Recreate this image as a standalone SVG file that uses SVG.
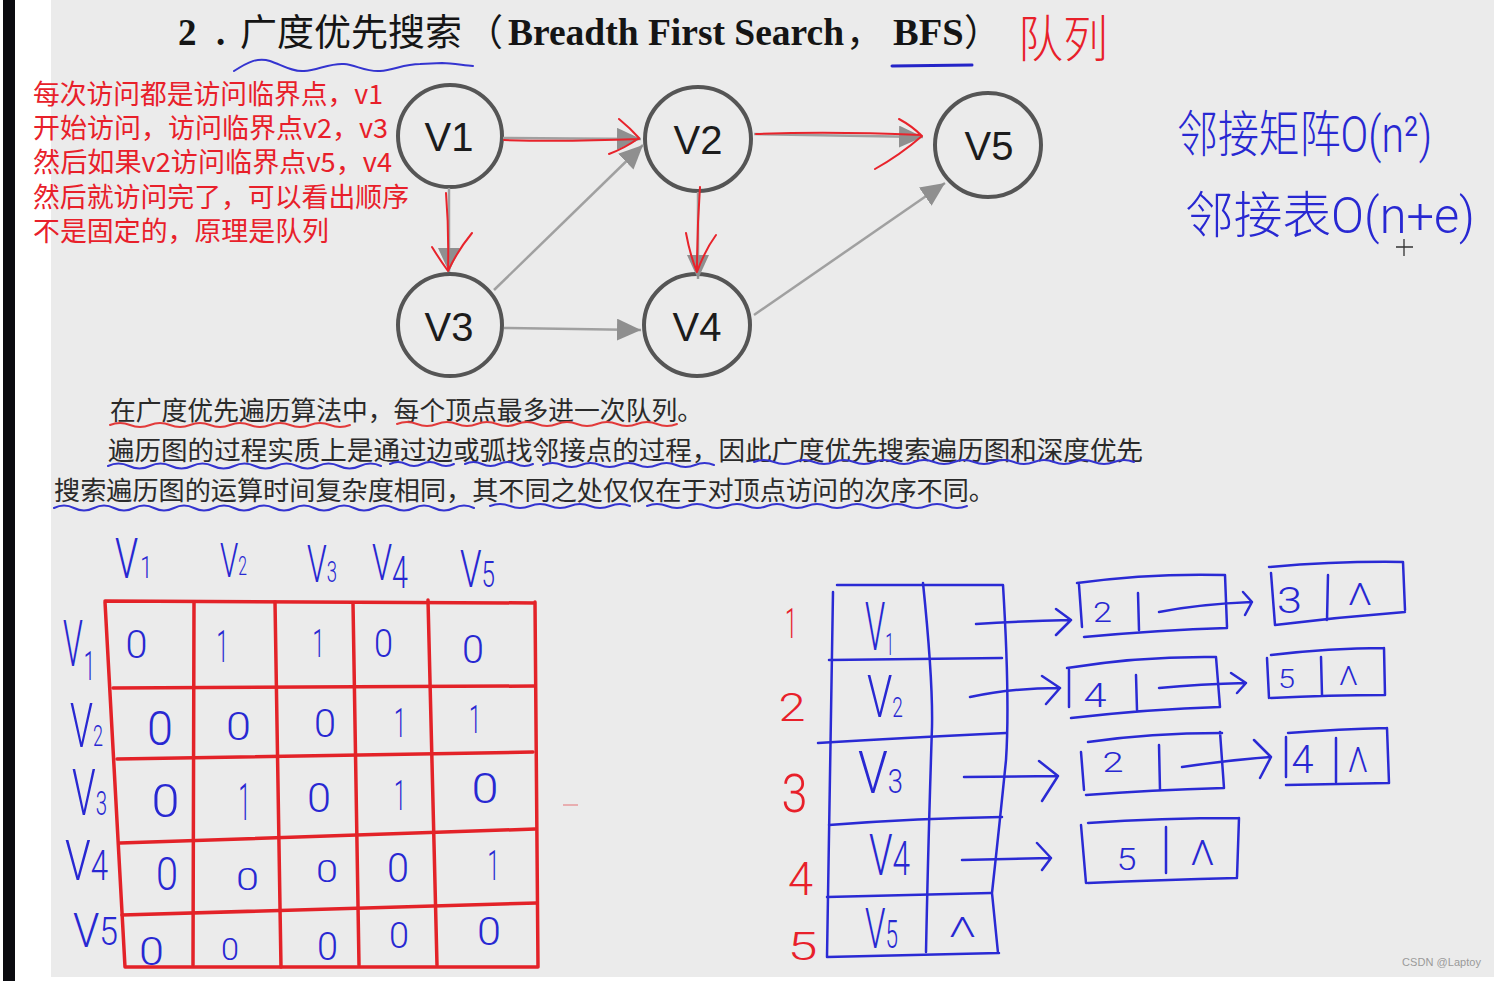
<svg xmlns="http://www.w3.org/2000/svg" width="1496" height="981" viewBox="0 0 1496 981">
<defs>
<style>
.note{font-family:'Noto Sans CJK SC',sans-serif;font-size:27px;fill:#e8202a}
.para{font-family:'Noto Sans CJK SC',sans-serif;font-size:26px;fill:#2a2a2a}
.ttl{font-family:'Liberation Serif','Noto Sans CJK SC',serif;font-size:37px;fill:#151515}
.b{font-weight:bold}
.cj{font-family:'Noto Sans CJK SC',sans-serif}
.node{fill:none;stroke:#555;stroke-width:4}
.nlab{font-family:'Liberation Sans',sans-serif;font-size:40px;fill:#1c1c1c;text-anchor:middle}
.edge{fill:none;stroke:#a0a0a0;stroke-width:2.5}
.red{fill:none;stroke:#e8232b;stroke-width:2;stroke-linecap:round;stroke-linejoin:round}
.blu{fill:none;stroke:#2a2ad4;stroke-width:2.5;stroke-linecap:round;stroke-linejoin:round}
.wav{fill:none;stroke:#3434d0;stroke-width:2;stroke-linecap:round}
.wavr{fill:none;stroke:#e23a3a;stroke-width:2;stroke-linecap:round}
.grid{fill:none;stroke:#e32228;stroke-width:3.5;stroke-linecap:round}
.hw{font-family:Roboto,'Noto Sans CJK SC',sans-serif;font-weight:300;fill:#2828d2}
.hwr{font-family:Roboto,'Noto Sans CJK SC',sans-serif;font-weight:300;fill:#e8202a}
.d{text-anchor:middle}
</style>
<marker id="ah" viewBox="0 0 24 22" markerWidth="24" markerHeight="22" refX="24" refY="11" orient="auto" markerUnits="userSpaceOnUse">
<path d="M0,0 L24,11 L0,22 z" fill="#8f8f8f"/>
</marker>
</defs>

<!-- background -->
<rect x="0" y="0" width="1496" height="981" fill="#ffffff"/>
<rect x="3" y="0" width="12" height="981" fill="#0b0b10"/>
<rect x="51" y="0" width="1443" height="977" fill="#ebebeb"/>

<!-- title -->
<g id="title">
<text class="ttl" y="45"><tspan class="b" x="178">2</tspan><tspan class="b" x="216">.</tspan><tspan class="cj" x="240" y="46">广度优先搜索</tspan><tspan class="cj" x="466" y="46">（</tspan><tspan class="b" x="508" y="45" font-size="37.5">Breadth First Search</tspan><tspan class="cj" x="846" y="46">，</tspan><tspan class="b" x="893" y="45" font-size="38.5">BFS</tspan><tspan class="cj" x="964" y="46">）</tspan></text>
<path class="wav" d="M234,71 C248,62 258,57 270,61 C282,65 292,72 304,71 C318,70 330,63 344,64 C356,65 366,72 380,71 C394,70 404,64 420,64 L442,63 C452,63 462,65 473,66"/>
<path d="M892,66 L972,65" fill="none" stroke="#2424c8" stroke-width="3" stroke-linecap="round"/>
<text class="hwr" x="1018" y="57" font-size="50" textLength="90" lengthAdjust="spacingAndGlyphs">队列</text>
</g>

<!-- red notes -->
<g id="notes">
<text class="note" x="33" y="104" textLength="350" lengthAdjust="spacingAndGlyphs">每次访问都是访问临界点，v1</text>
<text class="note" x="33" y="138" textLength="355" lengthAdjust="spacingAndGlyphs">开始访问，访问临界点v2，v3</text>
<text class="note" x="33" y="172" textLength="359" lengthAdjust="spacingAndGlyphs">然后如果v2访问临界点v5，v4</text>
<text class="note" x="33" y="207" textLength="376" lengthAdjust="spacingAndGlyphs">然后就访问完了，可以看出顺序</text>
<text class="note" x="33" y="241" textLength="296" lengthAdjust="spacingAndGlyphs">不是固定的，原理是队列</text>
</g>

<!-- graph nodes -->
<g id="node-v1"><ellipse class="node" cx="450" cy="136" rx="52" ry="51"/><text class="nlab" x="449" y="151">V1</text></g>
<g id="node-v2"><ellipse class="node" cx="698" cy="139" rx="53" ry="52"/><text class="nlab" x="698" y="154">V2</text></g>
<g id="node-v5"><ellipse class="node" cx="988" cy="145" rx="53" ry="52"/><text class="nlab" x="989" y="160">V5</text></g>
<g id="node-v3"><ellipse class="node" cx="450" cy="325" rx="52" ry="51"/><text class="nlab" x="449" y="341">V3</text></g>
<g id="node-v4"><ellipse class="node" cx="697" cy="325" rx="53" ry="51"/><text class="nlab" x="697" y="341">V4</text></g>

<!-- connectors -->
<g id="connectors">
<path class="edge" d="M503,138 L641,139" marker-end="url(#ah)"/>
<path class="edge" d="M449,188 L449,272" marker-end="url(#ah)"/>
<path class="edge" d="M494,290 L643,145" marker-end="url(#ah)"/>
<path class="edge" d="M698,192 L698,279" marker-end="url(#ah)"/>
<path class="edge" d="M504,328 L641,330" marker-end="url(#ah)"/>
<path class="edge" d="M754,315 L945,183" marker-end="url(#ah)"/>
<path class="edge" d="M754,134 L923,137" marker-end="url(#ah)"/>
<path class="red" d="M504,140 Q560,142 639,139 M619,119 Q630,128 639,138 Q625,148 609,154"/>
<path class="red" d="M756,134 Q830,131 921,135 M899,119 Q912,126 922,136 Q900,155 875,169"/>
<path class="red" d="M446,193 Q449,230 448,271 M432,247 Q440,260 448,271 Q458,250 472,233"/>
<path class="red" d="M700,187 Q697,230 697,272 M686,233 Q690,255 697,272 Q705,250 716,235"/>
</g>

<!-- complexity handwriting -->
<g id="complexity">
<text class="hw" x="1177" y="152" font-size="50" textLength="255" lengthAdjust="spacingAndGlyphs">邻接矩阵O(n²)</text>
<text class="hw" x="1185" y="233" font-size="50" textLength="290" lengthAdjust="spacingAndGlyphs">邻接表O(n+e)</text>
<path d="M1404,239 L1404,256 M1396,247 L1413,247" stroke="#333" stroke-width="1.3" fill="none"/>
</g>

<!-- paragraph -->
<g id="paragraph">
<text class="para" x="110" y="420" textLength="593" lengthAdjust="spacingAndGlyphs">在广度优先遍历算法中，每个顶点最多进一次队列。</text>
<text class="para" x="108" y="460" textLength="1035" lengthAdjust="spacingAndGlyphs">遍历图的过程实质上是通过边或弧找邻接点的过程，因此广度优先搜索遍历图和深度优先</text>
<text class="para" x="54" y="500" textLength="941" lengthAdjust="spacingAndGlyphs">搜索遍历图的运算时间复杂度相同，其不同之处仅仅在于对顶点访问的次序不同。</text>
<path class="wavr" d="M110,425 q10,-4 20,0 t20,0 t20,0 t20,0 t20,0 t20,0 t20,0 t20,0 t20,0 t20,0 t20,0 t20,0"/>
<path class="wavr" d="M397,424 q10,-4 20,0 t20,0 t20,0 t20,0 t20,0 t20,0 t20,0 t20,0 t20,0 t20,0 t20,0 t20,0 t20,0 t20,0"/>
<path class="wav" d="M108,466 q10.5,-5 21,0 t21,0 t21,0 t21,0 t21,0 t21,0 t21,0 t21,0 t21,0 t21,0 t21,0 t21,0 t21,0"/>
<path class="wav" d="M390,464 q8,-4 16,0 t16,0 t16,0 t16,0"/>
<path class="wav" d="M465,464 q8.5,-4 17,0 t17,0 t17,0 t17,0"/>
<path class="wav" d="M543,465 q9.5,-4 19,0 t19,0 t19,0 t19,0 t19,0 t19,0 t19,0 t19,0 t19,0"/>
<path class="wav" d="M754,462 q10,-4 20,0 t20,0 t20,0 t20,0 t20,0 t20,0 t20,0 t20,0 t20,0 t20,0 t20,0 t20,0 t20,0 t20,0 t20,0 t20,0 t20,0 t20,0 t20,0"/>
<path class="wav" d="M54,508 q10,-5 20,0 t20,0 t20,0 t20,0 t20,0 t20,0 t20,0 t20,0 t20,0 t20,0 t20,0 t20,0 t20,0 t20,0 t20,0 t20,0 t20,0 t20,0 t20,0 t20,0 t20,0"/>
<path class="wav" d="M490,506 q10,-4 20,0 t20,0 t20,0 t20,0 t20,0 t20,0 t20,0"/>
<path class="wav" d="M647,506 q10,-4 20,0 t20,0 t20,0 t20,0 t20,0 t20,0 t20,0 t20,0 t20,0 t20,0 t20,0 t20,0 t20,0 t20,0 t20,0 t20,0"/>
</g>

<!-- adjacency matrix -->
<g id="matrix">
<path class="grid" d="M105,601 L535,603 M105,602 L125,967 M535,602 L538,967 M125,967 L538,967"/>
<path class="grid" d="M113,688 L535,686 M117,759 L533,752 M120,843 L535,829 M122,915 L537,903"/>
<path class="grid" d="M194,603 L193,965 M275,602 L281,967 M353,603 L359,965 M428,600 L437,965"/>
<path d="M563,805 L578,805" stroke="#e32228" stroke-width="1.5" opacity="0.4"/>
<!-- column headers -->
<text class="hw" x="115" y="578" font-size="56" textLength="37" lengthAdjust="spacingAndGlyphs">V<tspan font-size="32" dx="3">1</tspan></text>
<text class="hw" x="220" y="577" font-size="49" textLength="27" lengthAdjust="spacingAndGlyphs">V<tspan font-size="26" dy="-2">2</tspan></text>
<text class="hw" x="307" y="582" font-size="52" textLength="30" lengthAdjust="spacingAndGlyphs">V<tspan font-size="30">3</tspan></text>
<text class="hw" x="372" y="580" font-size="50" textLength="36" lengthAdjust="spacingAndGlyphs">V<tspan font-size="44" dy="8">4</tspan></text>
<text class="hw" x="460" y="587" font-size="52" textLength="35" lengthAdjust="spacingAndGlyphs">V<tspan font-size="36">5</tspan></text>
<!-- row headers -->
<text class="hw" x="63" y="666" font-size="64" textLength="32" lengthAdjust="spacingAndGlyphs">V<tspan font-size="40" dx="2" dy="14">1</tspan></text>
<text class="hw" x="70" y="747" font-size="62" textLength="33" lengthAdjust="spacingAndGlyphs">V<tspan font-size="30" dy="-1">2</tspan></text>
<text class="hw" x="72" y="815" font-size="64" textLength="35" lengthAdjust="spacingAndGlyphs">V<tspan font-size="34">3</tspan></text>
<text class="hw" x="65" y="880" font-size="56" textLength="43" lengthAdjust="spacingAndGlyphs">V<tspan font-size="42">4</tspan></text>
<text class="hw" x="73" y="947" font-size="48" textLength="45" lengthAdjust="spacingAndGlyphs">V<tspan font-size="38" dy="-2">5</tspan></text>
<!-- cells -->
<text class="hw d" x="136.5" y="658" font-size="39" textLength="22" lengthAdjust="spacingAndGlyphs">0</text>
<text class="hw d" x="222.5" y="662" font-size="44" textLength="12" lengthAdjust="spacingAndGlyphs">1</text>
<text class="hw d" x="318.5" y="657" font-size="38" textLength="12" lengthAdjust="spacingAndGlyphs">1</text>
<text class="hw d" x="383.5" y="657" font-size="38" textLength="19" lengthAdjust="spacingAndGlyphs">0</text>
<text class="hw d" x="473" y="663" font-size="39" textLength="22" lengthAdjust="spacingAndGlyphs">0</text>

<text class="hw d" x="160" y="745" font-size="48" textLength="26" lengthAdjust="spacingAndGlyphs">0</text>
<text class="hw d" x="238.5" y="740" font-size="39" textLength="25" lengthAdjust="spacingAndGlyphs">0</text>
<text class="hw d" x="325" y="737" font-size="38" textLength="22" lengthAdjust="spacingAndGlyphs">0</text>
<text class="hw d" x="400" y="737" font-size="40" textLength="12" lengthAdjust="spacingAndGlyphs">1</text>
<text class="hw d" x="475" y="733" font-size="39" textLength="12" lengthAdjust="spacingAndGlyphs">1</text>

<text class="hw d" x="165.5" y="817" font-size="47" textLength="28" lengthAdjust="spacingAndGlyphs">0</text>
<text class="hw d" x="244.5" y="820" font-size="51" textLength="12" lengthAdjust="spacingAndGlyphs">1</text>
<text class="hw d" x="319" y="812" font-size="40" textLength="24" lengthAdjust="spacingAndGlyphs">0</text>
<text class="hw d" x="400" y="810" font-size="42" textLength="12" lengthAdjust="spacingAndGlyphs">1</text>
<text class="hw d" x="485" y="803" font-size="42" textLength="27" lengthAdjust="spacingAndGlyphs">0</text>

<text class="hw d" x="167" y="890" font-size="46" textLength="22" lengthAdjust="spacingAndGlyphs">0</text>
<text class="hw d" x="247.5" y="890" font-size="31" textLength="23" lengthAdjust="spacingAndGlyphs">0</text>
<text class="hw d" x="327" y="882" font-size="31" textLength="22" lengthAdjust="spacingAndGlyphs">0</text>
<text class="hw d" x="398" y="882" font-size="40" textLength="22" lengthAdjust="spacingAndGlyphs">0</text>
<text class="hw d" x="493.5" y="880" font-size="42" textLength="12" lengthAdjust="spacingAndGlyphs">1</text>

<text class="hw d" x="151.5" y="965" font-size="39" textLength="25" lengthAdjust="spacingAndGlyphs">0</text>
<text class="hw d" x="230" y="960" font-size="31" textLength="18" lengthAdjust="spacingAndGlyphs">0</text>
<text class="hw d" x="327.5" y="960" font-size="39" textLength="21" lengthAdjust="spacingAndGlyphs">0</text>
<text class="hw d" x="399" y="948" font-size="36" textLength="20" lengthAdjust="spacingAndGlyphs">0</text>
<text class="hw d" x="489" y="945" font-size="39" textLength="24" lengthAdjust="spacingAndGlyphs">0</text>
</g>

<!-- adjacency list -->
<g id="adjacency-list">
<text class="hwr d" x="791" y="638" font-size="43" textLength="12" lengthAdjust="spacingAndGlyphs">1</text>
<text class="hwr d" x="792" y="721" font-size="39" textLength="27" lengthAdjust="spacingAndGlyphs">2</text>
<text class="hwr d" x="794.5" y="812" font-size="54" textLength="26" lengthAdjust="spacingAndGlyphs">3</text>
<text class="hwr d" x="800.5" y="895" font-size="46" textLength="25" lengthAdjust="spacingAndGlyphs">4</text>
<text class="hwr d" x="802.5" y="960" font-size="38" textLength="30" lengthAdjust="spacingAndGlyphs">5</text>
<!-- head column -->
<path class="blu" d="M837,585 L1002,585 M833,592 L827,957 M1003,585 Q1010,700 1006,760 Q1000,820 992,893 L998,953 M827,957 L999,953"/>
<path class="blu" d="M923,583 Q933,680 932,727 Q928,850 926,952"/>
<path class="blu" d="M829,660 L1002,658 M818,743 Q900,738 1006,733 M829,825 Q920,818 1002,817 M827,897 L991,893"/>
<text class="hw" x="865" y="650" font-size="66" textLength="29" lengthAdjust="spacingAndGlyphs">V<tspan font-size="32" dy="5">1</tspan></text>
<text class="hw" x="867" y="717" font-size="60" textLength="36" lengthAdjust="spacingAndGlyphs">V<tspan font-size="28">2</tspan></text>
<text class="hw" x="858" y="793" font-size="60" textLength="45" lengthAdjust="spacingAndGlyphs">V<tspan font-size="34">3</tspan></text>
<text class="hw" x="869" y="875" font-size="58" textLength="41" lengthAdjust="spacingAndGlyphs">V<tspan font-size="48">4</tspan></text>
<text class="hw" x="865" y="948" font-size="56" textLength="33" lengthAdjust="spacingAndGlyphs">V<tspan font-size="38">5</tspan></text>
<text class="hw d" x="962.5" y="937" font-size="27" textLength="27" lengthAdjust="spacingAndGlyphs">Λ</text>
<!-- pointers from head column -->
<path class="blu" d="M976,624 Q1020,621 1071,620 M1056,609 L1071,620 L1056,635"/>
<path class="blu" d="M970,697 Q1010,688 1060,688 M1042,676 L1060,688 L1046,704"/>
<path class="blu" d="M964,777 L1058,776 M1039,761 L1058,776 L1042,801"/>
<path class="blu" d="M962,860 L1051,858 M1037,843 L1051,858 L1042,870"/>
<!-- row 1 -->
<path class="blu" d="M1077,583 Q1150,573 1225,575 M1079,585 L1082,627 M1225,575 L1227,627 M1084,637 Q1160,630 1227,628 M1138,593 L1139,630"/>
<text class="hw d" x="1102.5" y="622" font-size="28" textLength="19" lengthAdjust="spacingAndGlyphs">2</text>
<path class="blu" d="M1159,612 Q1200,604 1252,602 M1243,592 L1252,602 L1245,615"/>
<path class="blu" d="M1271,573 L1275,625 M1269,567 Q1340,561 1403,562 M1403,562 L1405,610 M1275,625 Q1340,617 1405,612 M1328,575 L1327,620"/>
<text class="hw d" x="1289.5" y="613" font-size="36" textLength="25" lengthAdjust="spacingAndGlyphs">3</text>
<text class="hw d" x="1360" y="605" font-size="32" textLength="24" lengthAdjust="spacingAndGlyphs">Λ</text>
<!-- row 2 -->
<path class="blu" d="M1069,670 L1069,707 M1067,668 Q1140,656 1216,657 M1216,657 L1220,707 M1071,718 Q1150,709 1220,707 M1136,675 L1137,710"/>
<text class="hw d" x="1095" y="707" font-size="33" textLength="23" lengthAdjust="spacingAndGlyphs">4</text>
<path class="blu" d="M1159,688 Q1200,684 1246,683 M1231,673 L1246,683 L1237,693"/>
<path class="blu" d="M1267,658 L1269,698 M1271,655 Q1330,648 1384,648 M1384,648 L1385,695 M1271,698 Q1330,695 1385,695 M1321,657 L1322,695"/>
<text class="hw d" x="1286.5" y="688" font-size="25" textLength="17" lengthAdjust="spacingAndGlyphs">5</text>
<text class="hw d" x="1348.5" y="685" font-size="25" textLength="19" lengthAdjust="spacingAndGlyphs">Λ</text>
<!-- row 3 -->
<path class="blu" d="M1081,752 L1084,790 M1088,742 Q1150,733 1222,733 M1220,732 L1224,788 M1086,795 Q1150,790 1224,788 M1159,745 L1160,790"/>
<text class="hw d" x="1113" y="772" font-size="28" textLength="21" lengthAdjust="spacingAndGlyphs">2</text>
<path class="blu" d="M1182,767 Q1230,760 1271,757 M1254,740 L1271,757 L1260,778"/>
<path class="blu" d="M1286,737 L1286,777 M1288,733 Q1340,729 1387,728 M1387,728 L1389,783 M1286,785 Q1340,784 1389,783 M1336,738 L1336,782"/>
<text class="hw d" x="1302.5" y="773" font-size="39" textLength="22" lengthAdjust="spacingAndGlyphs">4</text>
<text class="hw d" x="1358" y="772" font-size="35" textLength="20" lengthAdjust="spacingAndGlyphs">Λ</text>
<!-- row 4 -->
<path class="blu" d="M1081,825 L1086,883 M1088,823 Q1160,818 1239,818 M1239,818 L1237,877 M1088,883 Q1160,880 1237,878 M1166,827 L1166,873"/>
<text class="hw d" x="1126.5" y="870" font-size="32" textLength="20" lengthAdjust="spacingAndGlyphs">5</text>
<text class="hw d" x="1202.5" y="865" font-size="35" textLength="24" lengthAdjust="spacingAndGlyphs">Λ</text>
</g>

<text x="1402" y="966" font-family="'Liberation Sans',sans-serif" font-size="11" fill="#9a9a9a" textLength="79">CSDN @Laptoy</text>
</svg>
